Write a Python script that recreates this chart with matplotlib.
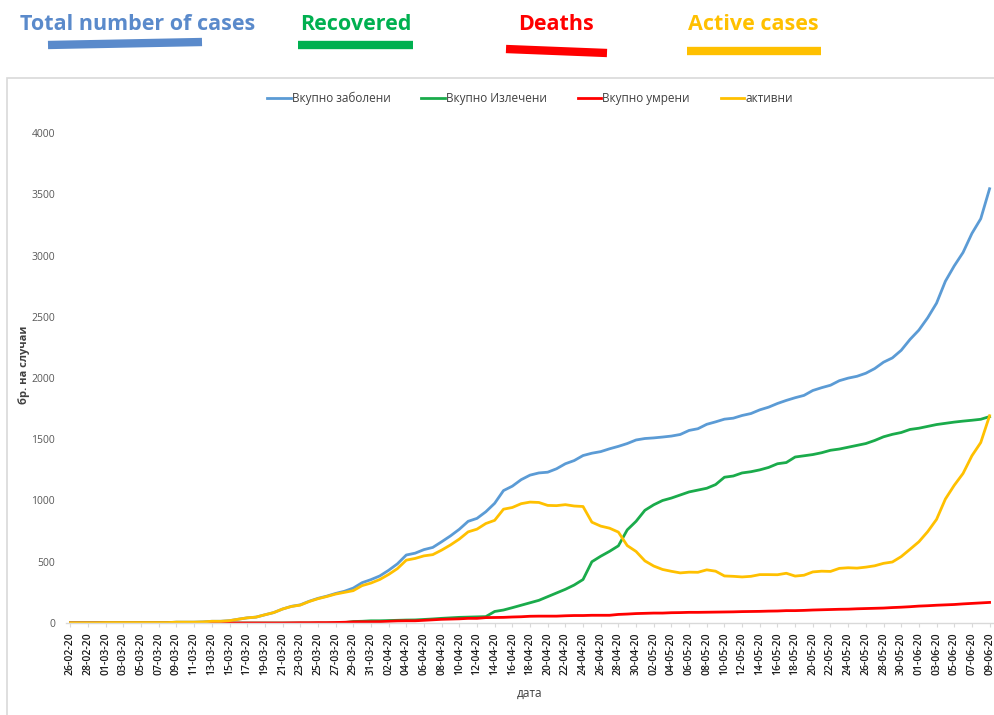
import matplotlib
matplotlib.use("Agg")
import matplotlib.pyplot as plt
from matplotlib.lines import Line2D
from matplotlib.patches import Rectangle
import pandas as pd

# dates 26-02-20 .. 09-06-20, one point per day
dates = pd.date_range("2020-02-26", "2020-06-09", freq="D")
date_labels = [d.strftime("%d-%m-%y") for d in dates]

total = [1, 1, 1, 1, 3, 3, 3, 3, 3, 3, 3, 3, 7, 7, 7, 9, 14, 14, 19, 31,
         42, 48, 67, 85, 114, 136, 148, 177, 201, 219, 241, 259, 285, 329, 354, 384, 430, 483, 555, 570,
         599, 617, 663, 711, 765, 830, 854, 908, 977, 1081, 1117, 1170, 1207, 1225, 1231, 1259, 1300, 1326, 1367, 1386,
         1399, 1422, 1442, 1465, 1494, 1506, 1511, 1518, 1526, 1539, 1572, 1586, 1622, 1642, 1664, 1672, 1694, 1710, 1740, 1762,
         1792, 1817, 1839, 1858, 1898, 1921, 1941, 1978, 1999, 2014, 2039, 2077, 2129, 2164, 2226, 2315, 2391, 2492, 2611, 2790,
         2915, 3025, 3180, 3300, 3545]

recovered = [0] * 30 + [1, 3, 12, 14, 18, 18, 20, 22, 24, 25,
             29, 33, 38, 42, 46, 48, 50, 52, 94, 106, 125, 145, 165, 185, 215, 245, 275, 310, 355, 500,
             545, 585, 630, 760, 830, 920, 965, 1000, 1020, 1045, 1070, 1085, 1100, 1130, 1190, 1200, 1225, 1235, 1250, 1270,
             1300, 1310, 1355, 1365, 1375, 1390, 1410, 1420, 1435, 1450, 1465, 1490, 1520, 1540, 1555, 1580, 1590, 1605, 1620, 1630,
             1640, 1648, 1655, 1663, 1685]

deaths = [0] * 25 + [1, 2, 2, 3, 3, 4, 6, 9, 10, 10, 11, 14, 17, 18, 18,
          22, 26, 30, 32, 34, 38, 38, 44, 45, 46, 49, 51, 55, 56, 56, 56, 59, 61, 61, 63,
          63, 63, 70, 73, 77, 79, 81, 81, 84, 85, 87, 87, 88, 89, 90, 91, 93, 94, 95, 97,
          98, 101, 101, 103, 106, 108, 110, 112, 113, 116, 118, 120, 122, 126, 129, 133, 138, 141, 145, 148,
          151, 156, 160, 164, 168]

active = [1, 1, 1, 1, 3, 3, 3, 3, 3, 3, 3, 3, 7, 7, 7, 9, 14, 14, 19, 31,
          42, 48, 67, 85, 114, 135, 146, 175, 198, 216, 236, 250, 264, 305, 326, 355, 396, 444, 513, 527,
          548, 558, 595, 637, 685, 744, 766, 812, 838, 929, 943, 974, 987, 984, 960, 958, 966, 955, 951, 823,
          791, 774, 742, 632, 584, 507, 465, 437, 422, 409, 415, 414, 434, 423, 384, 381, 376, 381, 395, 395,
          394, 406, 383, 390, 417, 423, 421, 446, 451, 448, 456, 467, 487, 498, 542, 602, 663, 746, 846, 1012,
          1124, 1221, 1365, 1473, 1692]

series = [
    ("Вкупно заболени", total, "#5B9BD5"),
    ("Вкупно Излечени", recovered, "#1AAB4B"),
    ("Вкупно умрени", deaths, "#FF0000"),
    ("активни", active, "#FFC000"),
]

# English labels on top, with a coloured stroke under each
top_labels = [
    ("Total number of cases", "#5A8ACB", 138, (48, 202), (45, 42)),
    ("Recovered", "#00B050", 356, (298, 413), (45, 45)),
    ("Deaths", "#FF0000", 556, (506, 607), (49, 53)),
    ("Active cases", "#FFC000", 753, (687, 821), (51, 51)),
]

plt.rcParams['font.family'] = ['Open Sans', 'DejaVu Sans']

W, H = 995, 715
fig = plt.figure(figsize=(W / 100, H / 100), dpi=100)
ax = fig.add_axes([66 / W, 1 - 623 / H, (994 - 66) / W, (623 - 133) / H])

x = list(range(len(dates)))
for name, vals, col in series:
    ax.plot(x, vals, color=col, lw=2.0, label=name, solid_joinstyle="round")

ax.set_xlim(-0.5, len(dates) - 0.5)
ax.set_ylim(0, 4000)
ax.set_yticks(range(0, 4001, 500))
ax.set_xticks(x[::2])
ax.set_xticklabels(date_labels[::2], rotation=90, fontsize=7.5, fontweight="semibold", color="#1a1a1a")
ax.tick_params(axis="y", length=0, labelsize=7.5, labelcolor="#595959", pad=8)
ax.tick_params(axis="x", length=3, color="#D9D9D9", pad=4)
for s in ["top", "right", "left"]:
    ax.spines[s].set_visible(False)
ax.spines["bottom"].set_color("#D9D9D9")
ax.spines["bottom"].set_linewidth(1.0)

ax.set_xlabel("дата", fontsize=8.5, color="#404040", labelpad=8)
ax.set_ylabel("бр. на случаи", fontsize=8, fontweight="bold", color="#404040")
ax.yaxis.set_label_coords(-0.039, 0.527)

leg = ax.legend(loc="lower center", bbox_to_anchor=(0.5, 1.035), ncol=4, frameon=False,
                fontsize=8.5, handlelength=2.0, handletextpad=0.1, columnspacing=2.6)
for t in leg.get_texts():
    t.set_color("#404040")

# chart frame (right and bottom edges run off the picture)
fig.add_artist(Rectangle((7 / W, -0.05), 1.2, 1 - 78 / H + 0.05, transform=fig.transFigure,
                         fill=False, edgecolor="#D9D9D9", lw=1.2))

for text, col, cx, (x0, x1), (y0, y1) in top_labels:
    fig.text(cx / W, 1 - 24 / H, text, color=col, fontsize=15.5, fontweight="bold",
             ha="center", va="center", fontstretch="condensed")
    fig.add_artist(Line2D([x0 / W, x1 / W], [1 - y0 / H, 1 - y1 / H], transform=fig.transFigure,
                          color=col, lw=6, solid_capstyle="butt"))

fig.savefig("out.png", dpi=100)
